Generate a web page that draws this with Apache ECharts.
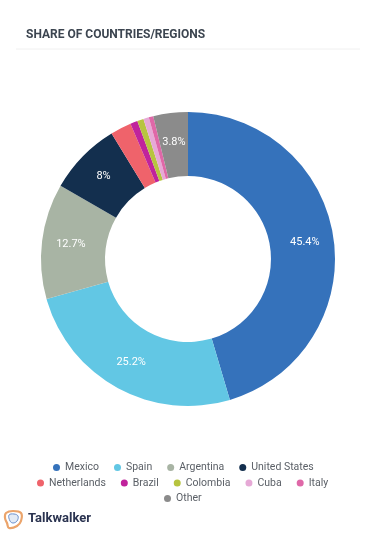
<!DOCTYPE html>
<html><head><meta charset="utf-8">
<script src="https://cdn.jsdelivr.net/npm/echarts@6/dist/echarts.min.js"></script>
<style>html,body{margin:0;padding:0;background:#fff}#c{width:386px;height:540px}</style>
</head><body><div id="c"></div>
<script>
const categories = ['Mexico','Spain','Argentina','United States','Netherlands','Brazil','Colombia','Cuba','Italy','Other'];
const values = [45.4, 25.2, 12.7, 8, 2.3, 0.8, 0.7, 0.6, 0.5, 3.8];
const colors = ['#3572bb','#62c7e4','#a8b4a4','#132f4e','#ef636b','#c0239c','#b7c43f','#e6a9d6','#df68a8','#8b8b8b'];
const legendRows = [['Mexico','Spain','Argentina','United States'],['Netherlands','Brazil','Colombia','Cuba','Italy'],['Other']];

const chart = echarts.init(document.getElementById('c'));
const LF = 10.5, IW = 7, GAP = 15, CX = 183;
const ctx = document.createElement('canvas').getContext('2d');
ctx.font = LF + 'px Roboto';
function rowWidth(row) {
  return row.reduce((s, n) => s + IW + 5 + ctx.measureText(n).width, 0) + GAP * (row.length - 1);
}
const legendBase = {
  orient: 'horizontal', icon: 'circle', itemWidth: IW, itemHeight: IW, padding: 0,
  itemGap: GAP, selectedMode: false,
  textStyle: { color: '#5a5f66', fontSize: LF, fontFamily: 'Roboto' }
};
chart.setOption({
  animation: false,
  color: colors,
  title: {
    text: 'SHARE OF COUNTRIES/REGIONS', left: 21, top: 24,
    textStyle: { fontSize: 12, fontWeight: 'bold', color: '#3c4550', fontFamily: 'Roboto' }
  },
  graphic: [
    { type: 'line', shape: { x1: 16, y1: 49, x2: 360, y2: 49 }, style: { stroke: '#f0f0f0', lineWidth: 1 } },
    { type: 'text', left: 28, top: 512, style: { text: 'Talkwalker', fill: '#2a3350', font: 'bold 13px Roboto' } },
    { type: 'polygon', shape: { points: [[6,513],[13,511],[21,513],[21,521],[17,526],[9,528],[7,523],[5,518]], smooth: 0.4 },
      style: { fill: 'none', stroke: '#eba46b', lineWidth: 2.2 } },
    { type: 'polygon', shape: { points: [[9,515],[14,514],[18,516],[17,521],[13,523],[10,521]], smooth: 0.4 },
      style: { fill: '#e3ebf6', stroke: '#6a8fcc', lineWidth: 1 } }
  ],
  legend: legendRows.map((row, i) => Object.assign({}, legendBase, {
    left: Math.round(CX - rowWidth(row) / 2), top: 462 + i * 15.5, data: row })),
  series: [{
    type: 'pie',
    center: [188, 259],
    radius: [83, 147],
    startAngle: 90,
    clockwise: true,
    avoidLabelOverlap: false,
    label: {
      show: true, position: 'inside', color: '#fff', fontSize: 11, fontFamily: 'Roboto',
      formatter: p => p.value >= 3 ? p.value + '%' : ''
    },
    labelLine: { show: false },
    itemStyle: { borderWidth: 0 },
    emphasis: { disabled: true },
    data: categories.map((c, i) => ({ name: c, value: values[i] }))
  }]
});
</script></body></html>
